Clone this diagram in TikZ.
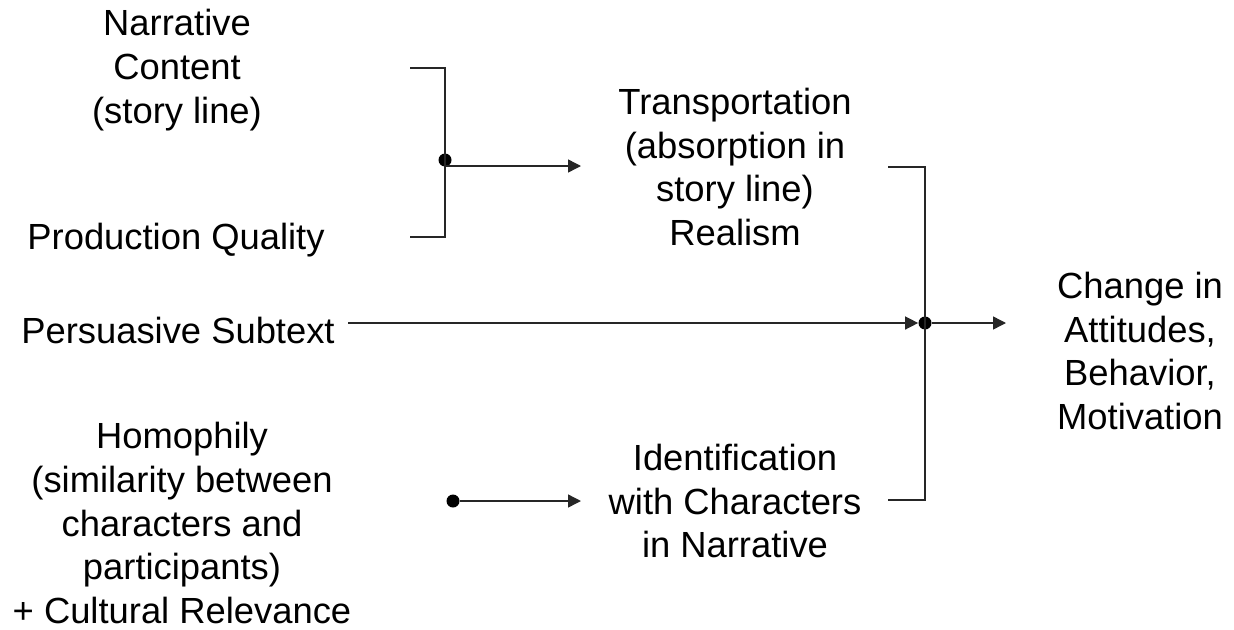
\documentclass[tikz,border=0pt]{standalone}
\usepackage{fontspec}
\setmainfont{Liberation Sans}
\usepackage{tikz}
\usetikzlibrary{positioning,arrows.meta}

\begin{document}
\begin{tikzpicture}[x=0.02cm,y=-0.02cm,
  lbl/.style={align=center,inner sep=0pt,
              font=\fontsize{20.7}{25}\selectfont},
  ln/.style ={line width=0.8pt,draw=black!85},
  arr/.style={ln,-{Triangle[length=2.6mm,width=2.6mm]}},
  dot/.style={circle,fill=black,inner sep=0pt,minimum size=2.6mm}]
  \useasboundingbox (0,0) rectangle (1234,629);
  % left column
  \node[lbl] (nc) at (177,70)  {Narrative\\Content\\(story line)};
  \node[lbl] (pq) at (176,240) {Production Quality};
  \node[lbl] (ps) at (178,330) {Persuasive Subtext};
  \node[lbl] (ho) at (182,523) {Homophily\\(similarity between\\characters and\\participants)\\+ Cultural Relevance};
  % middle and right
  \node[lbl] (tr) at (735,167) {Transportation\\(absorption in\\story line)\\Realism};
  \node[lbl] (id) at (735,501) {Identification\\with Characters\\in Narrative};
  \node[lbl] (ch) at (1140,351) {Change in\\Attitudes,\\Behavior,\\Motivation};
  % junctions
  \coordinate (a1) at (410,68);  \coordinate (a2) at (410,237);
  \coordinate (j1) at (445,166); \coordinate (t1) at (581,166);
  \node[dot] (d1) at (445,160) {};
  \coordinate (b1) at (888,167); \coordinate (b2) at (888,500);
  \coordinate (j2) at (925,323); \node[dot] (d2) at (j2) {};
  \coordinate (p1) at (348,323); \coordinate (c1) at (1006,323);
  \node[dot] (d3) at (453,501) {}; \coordinate (i1) at (581,501);
  \draw[ln] (a1) -| (j1) |- (a2);
  \draw[arr] (j1) -- (t1);
  \draw[ln] (b1) -| (j2) |- (b2);
  \draw[arr] (p1) -- (d2);
  \draw[arr] (d2) -- (c1);
  \draw[arr] (d3) -- (i1);
\end{tikzpicture}
\end{document}
